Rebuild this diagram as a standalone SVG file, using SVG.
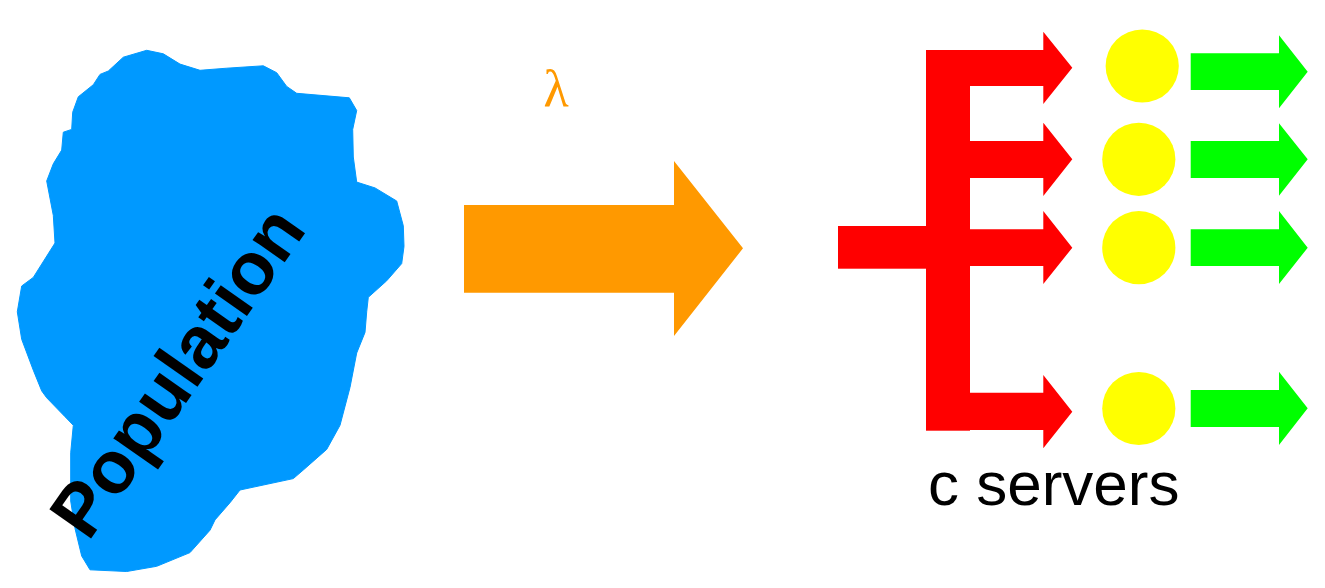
<svg xmlns="http://www.w3.org/2000/svg" width="1325" height="588" viewBox="0 0 1325 588">
<style>
.blob{fill:#0099FF}
.orange{fill:#FF9900}
.red{fill:#FF0000}
.green{fill:#00FF00}
.server{fill:#FFFF00}
.pop{font-family:"Liberation Sans",Arial,sans-serif;font-weight:bold;font-size:74px;fill:#000}
.lam{font-family:"Liberation Serif","DejaVu Serif",serif;font-size:52px;fill:#FF9900}
.lbl{font-family:"Liberation Sans",Arial,sans-serif;font-size:62px;fill:#000}
</style>
<rect width="1325" height="588" fill="#fff"/>
<g id="population">
<polygon class="blob" stroke="#0099FF" stroke-width="1" stroke-linejoin="round" points="146.7,50.3 163.3,53.8 180,64.1 200,70.3 226.7,68.2 263.3,65.8 276.7,72.7 286.7,86.4 296.7,93.3 349.3,97.8 356.7,110.5 352.7,129.4 353.3,157 356.7,182.1 375,187.9 396.7,201 403.3,225.8 404,246.4 401.7,263.6 386.7,280.8 368.3,297.3 366.7,311.8 365,332.4 356.7,353 350,387.4 340,425.3 326.7,449.4 303.3,470 293.3,478.6 240,490 230,502.7 215,519.9 210,530.2 190,552.6 156.7,566.3 126.7,571.5 90,569.8 81.7,556 75,528.5 70.7,501 70.7,452.8 73.3,425.3 65,416.7 46.7,397.8 41.7,390.9 33.3,370.2 21.7,339.3 17.3,311.8 21.7,286 33.3,277.4 55,243 53.3,215.4 46.7,181 53.3,163.8 61.7,150.1 63.3,132.2 71.7,129.4 72.7,112.2 78.3,96.8 93.3,84.7 100,74.4 108.3,71 123.3,57.2"/>
<text class="pop" x="0" y="0" text-anchor="middle" transform="translate(198,386) rotate(-55)">Population</text>
</g>
<g id="lambda-label">
<text class="lam" x="556" y="106" text-anchor="middle">λ</text>
</g>
<g id="connectors">
<polygon id="arrival-arrow" class="orange" points="464,205 674,205 674,161 743,248.3 674,336 674,292.7 464,292.7"/>
<g id="dispatcher">
<rect class="red" x="838" y="226" width="90" height="42.7"/>
<rect class="red" x="926" y="50" width="44" height="380.7"/>
<polygon class="red" points="968,50 1043.3,50 1043.3,31.7 1072.3,67.7 1043.3,104 1043.3,86 968,86"/>
<polygon class="red" points="968,141 1043.3,141 1043.3,122.7 1072.3,159.3 1043.3,196 1043.3,178 968,178"/>
<polygon class="red" points="968,229.3 1043.3,229.3 1043.3,211 1072.3,247.7 1043.3,284 1043.3,266 968,266"/>
<polygon class="red" points="968,392.7 1043.3,392.7 1043.3,375 1072.3,411.7 1043.3,448.3 1043.3,430 968,430"/>
</g>
<g id="departures">
<polygon class="green" points="1190.7,53.3 1279,53.3 1279,35.3 1307.7,71.7 1279,108.3 1279,90 1190.7,90"/>
<polygon class="green" points="1190.7,141 1279,141 1279,123.3 1307.7,159.3 1279,195.7 1279,178 1190.7,178"/>
<polygon class="green" points="1190.7,229.3 1279,229.3 1279,211 1307.7,247.7 1279,284 1279,266 1190.7,266"/>
<polygon class="green" points="1190.7,390 1279,390 1279,371.7 1307.7,408.3 1279,445 1279,427 1190.7,427"/>
</g>
</g>
<g id="server1"><circle class="server" cx="1142.2" cy="66" r="36.6"/></g>
<g id="server2"><circle class="server" cx="1138.8" cy="159.3" r="36.6"/></g>
<g id="server3"><circle class="server" cx="1138.8" cy="247.7" r="36.6"/></g>
<g id="server4"><circle class="server" cx="1138.8" cy="408.5" r="36.6"/></g>
<g id="servers-label">
<text class="lbl" x="928" y="505">c servers</text>
</g>
</svg>
